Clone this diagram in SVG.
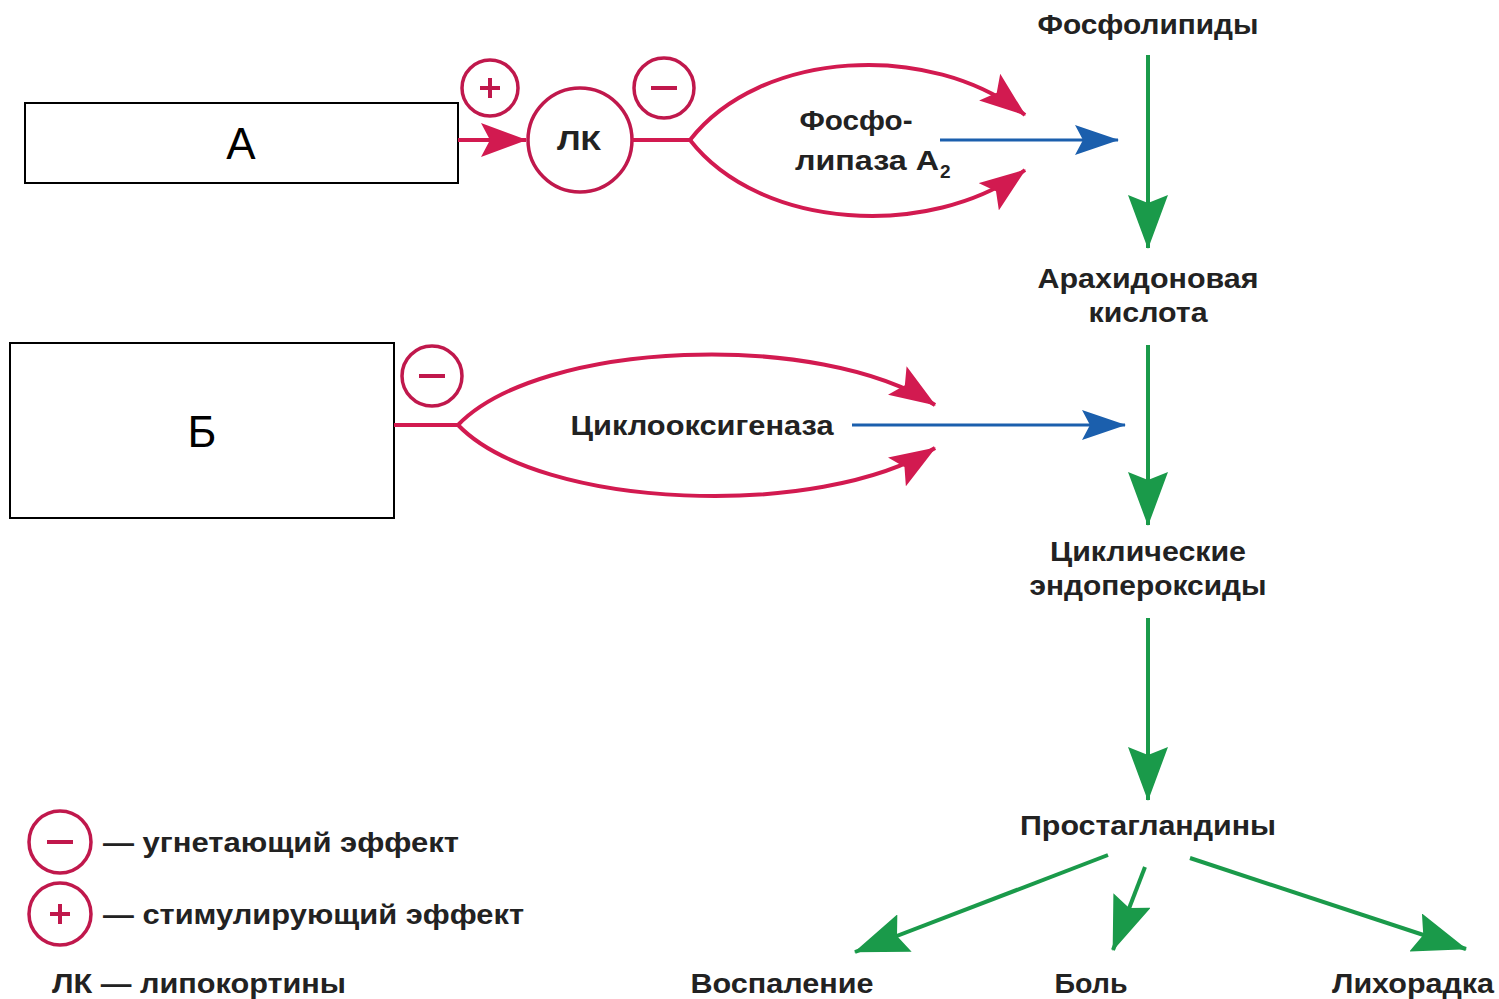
<svg xmlns="http://www.w3.org/2000/svg" width="1499" height="999" viewBox="0 0 1499 999">
<style>
.lbl{font-family:"Liberation Sans",Arial,sans-serif;font-weight:bold;font-size:27px;fill:#222;text-anchor:middle}
.leg{font-family:"Liberation Sans",Arial,sans-serif;font-weight:bold;font-size:27px;fill:#222}
.box{fill:#fff;stroke:#000;stroke-width:2}
.big{font-family:"Liberation Sans",Arial,sans-serif;font-size:44px;fill:#000;text-anchor:middle}
.red{fill:none;stroke:#d21a50;stroke-width:4}
.blue{fill:none;stroke:#1b5fad;stroke-width:3}
.green{fill:none;stroke:#1a9a4a;stroke-width:4}
.sign{fill:none;stroke:#c0184c;stroke-width:3.5}
.sym{stroke:#c0184c;stroke-width:4;stroke-linecap:butt}
</style>
<defs>
<marker id="mr" markerUnits="userSpaceOnUse" viewBox="0 0 46 34" refX="45" refY="17" markerWidth="46" markerHeight="34" orient="auto">
<path d="M0,0 L46,17 L0,34 L9,17 z" fill="#d21a50"/>
</marker>
<marker id="mb" markerUnits="userSpaceOnUse" viewBox="0 0 44 30" refX="43" refY="15" markerWidth="44" markerHeight="30" orient="auto">
<path d="M0,0 L44,15 L0,30 L8,15 z" fill="#1b5fad"/>
</marker>
<marker id="mg" markerUnits="userSpaceOnUse" viewBox="0 0 54 40" refX="53" refY="20" markerWidth="54" markerHeight="40" orient="auto">
<path d="M0,0 L54,20 L0,40 L8,20 z" fill="#1a9a4a"/>
</marker>
</defs>

<g id="boxA">
<rect class="box" x="25" y="103" width="433" height="80"/>
<text class="big" x="241" y="159">А</text>
</g>
<g id="boxB">
<rect class="box" x="10" y="343" width="384" height="175"/>
<text class="big" x="202" y="447">Б</text>
</g>

<g id="plusA">
<circle class="sign" cx="490" cy="88" r="28"/>
<line class="sym" x1="480" y1="88" x2="500" y2="88"/>
<line class="sym" x1="490" y1="78" x2="490" y2="98"/>
</g>
<g id="minusA">
<circle class="sign" cx="664" cy="88" r="30"/>
<line class="sym" x1="651" y1="88" x2="677" y2="88"/>
</g>
<g id="lk">
<circle class="sign" cx="580" cy="140" r="52"/>
<text class="lbl" x="579" y="150" textLength="44" lengthAdjust="spacingAndGlyphs">ЛК</text>
</g>
<g id="pla2">
<text class="lbl" x="856" y="130" textLength="113" lengthAdjust="spacingAndGlyphs">Фосфо-</text>
<text class="leg" x="795" y="170" textLength="144" lengthAdjust="spacingAndGlyphs">липаза A</text>
<text class="leg" x="940" y="178" style="font-size:19px">2</text>
</g>
<g id="minusB">
<circle class="sign" cx="432" cy="376" r="30"/>
<line class="sym" x1="419" y1="376" x2="445" y2="376"/>
</g>
<g id="cox">
<text class="lbl" x="702" y="435" textLength="263" lengthAdjust="spacingAndGlyphs">Циклооксигеназа</text>
</g>

<g id="phospholipids"><text class="lbl" x="1148" y="34" textLength="221" lengthAdjust="spacingAndGlyphs">Фосфолипиды</text></g>
<g id="arachidonic">
<text class="lbl" x="1148" y="288" textLength="221" lengthAdjust="spacingAndGlyphs">Арахидоновая</text>
<text class="lbl" x="1148" y="322" textLength="119" lengthAdjust="spacingAndGlyphs">кислота</text>
</g>
<g id="endoperoxides">
<text class="lbl" x="1148" y="561" textLength="196" lengthAdjust="spacingAndGlyphs">Циклические</text>
<text class="lbl" x="1148" y="595" textLength="237" lengthAdjust="spacingAndGlyphs">эндопероксиды</text>
</g>
<g id="prostaglandins"><text class="lbl" x="1148" y="835" textLength="256" lengthAdjust="spacingAndGlyphs">Простагландины</text></g>
<g id="inflammation"><text class="lbl" x="782" y="993" textLength="183" lengthAdjust="spacingAndGlyphs">Воспаление</text></g>
<g id="pain"><text class="lbl" x="1091" y="993" textLength="73" lengthAdjust="spacingAndGlyphs">Боль</text></g>
<g id="fever"><text class="lbl" x="1413" y="993" textLength="162" lengthAdjust="spacingAndGlyphs">Лихорадка</text></g>

<g id="legend">
<circle class="sign" cx="60" cy="842" r="31"/>
<line class="sym" x1="47" y1="842" x2="73" y2="842"/>
<text class="leg" x="103" y="852" textLength="356" lengthAdjust="spacingAndGlyphs">— угнетающий эффект</text>
<circle class="sign" cx="60" cy="914" r="31"/>
<line class="sym" x1="50" y1="914" x2="70" y2="914"/>
<line class="sym" x1="60" y1="904" x2="60" y2="924"/>
<text class="leg" x="103" y="924" textLength="421" lengthAdjust="spacingAndGlyphs">— стимулирующий эффект</text>
<text class="leg" x="52" y="993" textLength="294" lengthAdjust="spacingAndGlyphs">ЛК — липокортины</text>
</g>

<g id="connectors">
<line class="red" x1="458" y1="140" x2="526" y2="140" marker-end="url(#mr)"/>
<line class="red" x1="632" y1="140" x2="690" y2="140"/>
<path class="red" d="M690,140 C760,50 930,40 1025,115" marker-end="url(#mr)"/>
<path class="red" d="M690,140 C760,230 930,240 1025,170" marker-end="url(#mr)"/>
<line class="blue" x1="940" y1="140" x2="1118" y2="140" marker-end="url(#mb)"/>

<line class="red" x1="394" y1="425" x2="458" y2="425"/>
<path class="red" d="M458,425 C540,340 820,330 935,405" marker-end="url(#mr)"/>
<path class="red" d="M458,425 C540,510 820,520 935,448" marker-end="url(#mr)"/>
<line class="blue" x1="852" y1="425" x2="1125" y2="425" marker-end="url(#mb)"/>

<line class="green" x1="1148" y1="55" x2="1148" y2="248" marker-end="url(#mg)"/>
<line class="green" x1="1148" y1="345" x2="1148" y2="525" marker-end="url(#mg)"/>
<line class="green" x1="1148" y1="618" x2="1148" y2="800" marker-end="url(#mg)"/>
<line class="green" x1="1108" y1="855" x2="855" y2="952" marker-end="url(#mg)"/>
<line class="green" x1="1145" y1="867" x2="1113" y2="950" marker-end="url(#mg)"/>
<line class="green" x1="1190" y1="858" x2="1466" y2="949" marker-end="url(#mg)"/>
</g>
</svg>
